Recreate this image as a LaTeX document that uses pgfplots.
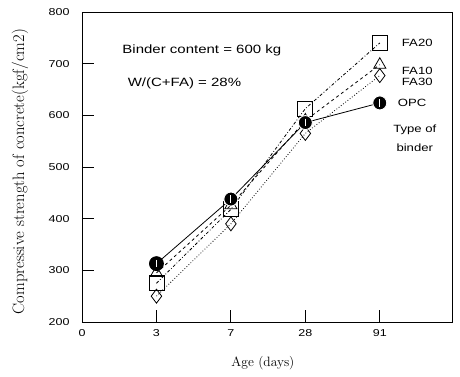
\documentclass[border=0pt]{standalone}
\usepackage{fontspec}
\usepackage{pgfplots}
\pgfplotsset{compat=1.18}
\newfontfamily\sansf[FakeStretch=1.25]{Liberation Sans}
\pgfdeclareplotmark{opc}{%
  \pgfpathcircle{\pgfpointorigin}{\pgfplotmarksize}%
  \pgfusepathqfillstroke
  \pgfsetstrokecolor{white}\pgfsetlinewidth{0.9pt}%
  \pgfpathmoveto{\pgfpoint{0pt}{0.55\pgfplotmarksize}}%
  \pgfpathlineto{\pgfpoint{0pt}{-0.55\pgfplotmarksize}}%
  \pgfusepathqstroke}
\begin{document}
\begin{tikzpicture}
\useasboundingbox (-82pt,-54pt) rectangle (378pt,322pt);
\begin{axis}[
  at={(0,0)}, anchor=south west,
  scale only axis, width=370pt, height=310pt,
  xmin=0, xmax=4.97, ymin=200, ymax=800,
  xtick={0,1,2,3,4}, xticklabels={0,3,7,28,91},
  ytick={200,300,...,800},
  tick pos=left, tick align=inside,
  major tick length=12pt,
  tick style={line width=0.9pt, black},
  axis line style={line width=0.9pt},
  /pgf/number format/assume math mode=true,
  ticklabel style={font=\sansf\fontsize{10}{12}\selectfont},
  yticklabel style={xshift=-9pt},
  xticklabel style={yshift=-4pt},
  xlabel={\fontsize{13.5}{16}\selectfont Age (days)},
  ylabel={\fontsize{16.5}{18}\selectfont Compressive strength of concrete(kgf/cm2)},
  every axis x label/.style={at={(axis description cs:0.489,-0.132)}, anchor=center},
  every axis y label/.style={at={(axis description cs:-0.1676,0.485)}, anchor=center, rotate=90},
  every axis plot/.append style={black, line width=0.8pt},
]
\addplot[dash dot, mark=square, mark size=7.5pt, mark options={fill=white, solid}] coordinates {(1,275) (2,418) (3,613) (4,740)};
\addplot[dashed, mark=triangle, mark size=7pt, mark options={fill=white, solid}] coordinates {(1,295) (2,426) (3,590) (4,698)};
\addplot[dotted, mark=diamond, mark size=7pt, mark options={fill=white, solid}] coordinates {(1,250) (2,390) (3,565) (4,677)};
\addplot[solid, mark=opc, mark size=7pt, mark options={fill=black, solid}] coordinates {(1,313) (2,438) (3,586) (4,624)};
\node[font=\sansf\fontsize{12}{14}\selectfont] at (axis cs:1.61,726) {Binder content = 600 kg};
\node[font=\sansf\fontsize{12}{14}\selectfont] at (axis cs:1.376,662) {W/(C+FA) = 28\%};
\node[font=\sansf\fontsize{10.5}{13}\selectfont, anchor=west, inner sep=0pt] at (axis cs:4.295,740) {FA20};
\node[font=\sansf\fontsize{10.5}{13}\selectfont, anchor=west, inner sep=0pt] at (axis cs:4.295,687) {FA10};
\node[font=\sansf\fontsize{10.5}{13}\selectfont, anchor=west, inner sep=0pt] at (axis cs:4.295,664) {FA30};
\node[font=\sansf\fontsize{10.5}{13}\selectfont, anchor=west, inner sep=0pt] at (axis cs:4.24,625) {OPC};
\node[font=\sansf\fontsize{10.5}{19}\selectfont, align=center] at (axis cs:4.47,555) {Type of\\binder};
\end{axis}
\end{tikzpicture}
\end{document}
